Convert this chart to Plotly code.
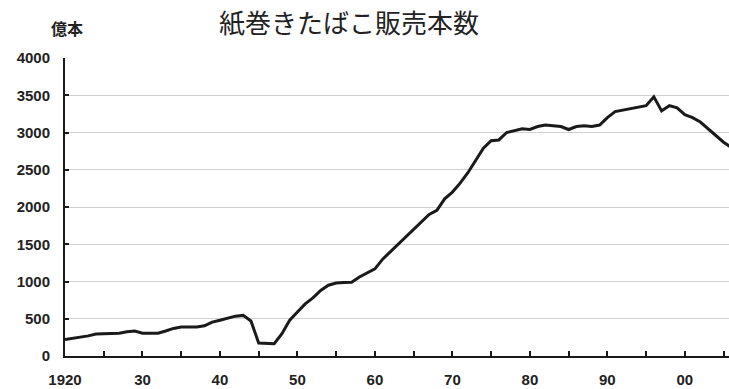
import plotly.graph_objects as go

# Annual cigarette sales in Japan (hundred-million sticks)
years = list(range(1920, 2007))
sales = [
    220, 235, 250, 270, 295, 300, 300, 305, 325, 335,   # 1920-1929
    305, 305, 305, 335, 370, 390, 390, 390, 405, 455,   # 1930-1939
    480, 510, 535, 545, 470, 175, 165, 165, 300, 480,   # 1940-1949
    590, 700, 780, 880, 950, 980, 985, 990, 1060, 1110, # 1950-1959
    1170, 1300, 1400, 1500, 1600, 1700, 1800, 1900, 1955, 2110,  # 1960-1969
    2200, 2320, 2460, 2620, 2790, 2890, 2900, 3000, 3020, 3050,  # 1970-1979
    3040, 3080, 3100, 3090, 3080, 3040, 3080, 3090, 3080, 3100,  # 1980-1989
    3200, 3280, 3300, 3320, 3340, 3360, 3480, 3290, 3360, 3330,  # 1990-1999
    3240, 3200, 3140, 3050, 2960, 2870, 2800,                    # 2000-2006
]

x_ticks = list(range(1920, 2006, 5))
x_text = ["1920" if y == 1920 else (f"{y % 100:02d}" if y % 10 == 0 else "") for y in x_ticks]
y_ticks = list(range(0, 4001, 500))
y_text = [str(v) for v in y_ticks]

title_text = "紙巻きたばこ販売本数"
unit_text = "億本"

tick_font = dict(family="Liberation Sans Narrow, Liberation Sans, Arial", size=15, color="#222")

fig = go.Figure()
fig.add_trace(go.Scatter(
    x=years, y=sales, mode="lines",
    line=dict(color="#1a1a1a", width=3),
    hoverinfo="skip", showlegend=False,
))

fig.update_layout(
    width=729, height=389,
    margin=dict(l=65, r=0, t=58, b=33),
    paper_bgcolor="white", plot_bgcolor="white",
    xaxis=dict(
        range=[1920, 2005.7], tickmode="array", tickvals=x_ticks, ticktext=x_text,
        ticks="inside", ticklen=5, tickwidth=2, tickcolor="#1a1a1a",
        showline=True, linecolor="#1a1a1a", linewidth=2,
        showgrid=False, zeroline=False,
        tickfont=dict(tick_font, weight="bold"), ticklabelstandoff=9,
    ),
    yaxis=dict(
        range=[0, 4000], tickmode="array", tickvals=y_ticks, ticktext=y_text,
        ticks="inside", ticklen=4, tickwidth=2, tickcolor="#1a1a1a",
        showline=True, linecolor="#1a1a1a", linewidth=2,
        showgrid=True, gridcolor="#d2d2d2", gridwidth=1,
        zeroline=False,
        tickfont=dict(tick_font, weight="bold"), ticklabelstandoff=10,
    ),
    annotations=[
        dict(text=title_text, xref="paper", yref="paper", x=0.4277, y=1.122,
             xanchor="center", yanchor="middle", showarrow=False,
             font=dict(family="Noto Sans CJK JP", size=26, color="#222")),
        dict(text=unit_text, xref="paper", yref="paper", x=0.003, y=1.10,
             xanchor="center", yanchor="middle", showarrow=False,
             font=dict(family="Noto Sans CJK JP", size=16, color="#222", weight="bold")),
    ],
)

fig.write_html("out.html")
